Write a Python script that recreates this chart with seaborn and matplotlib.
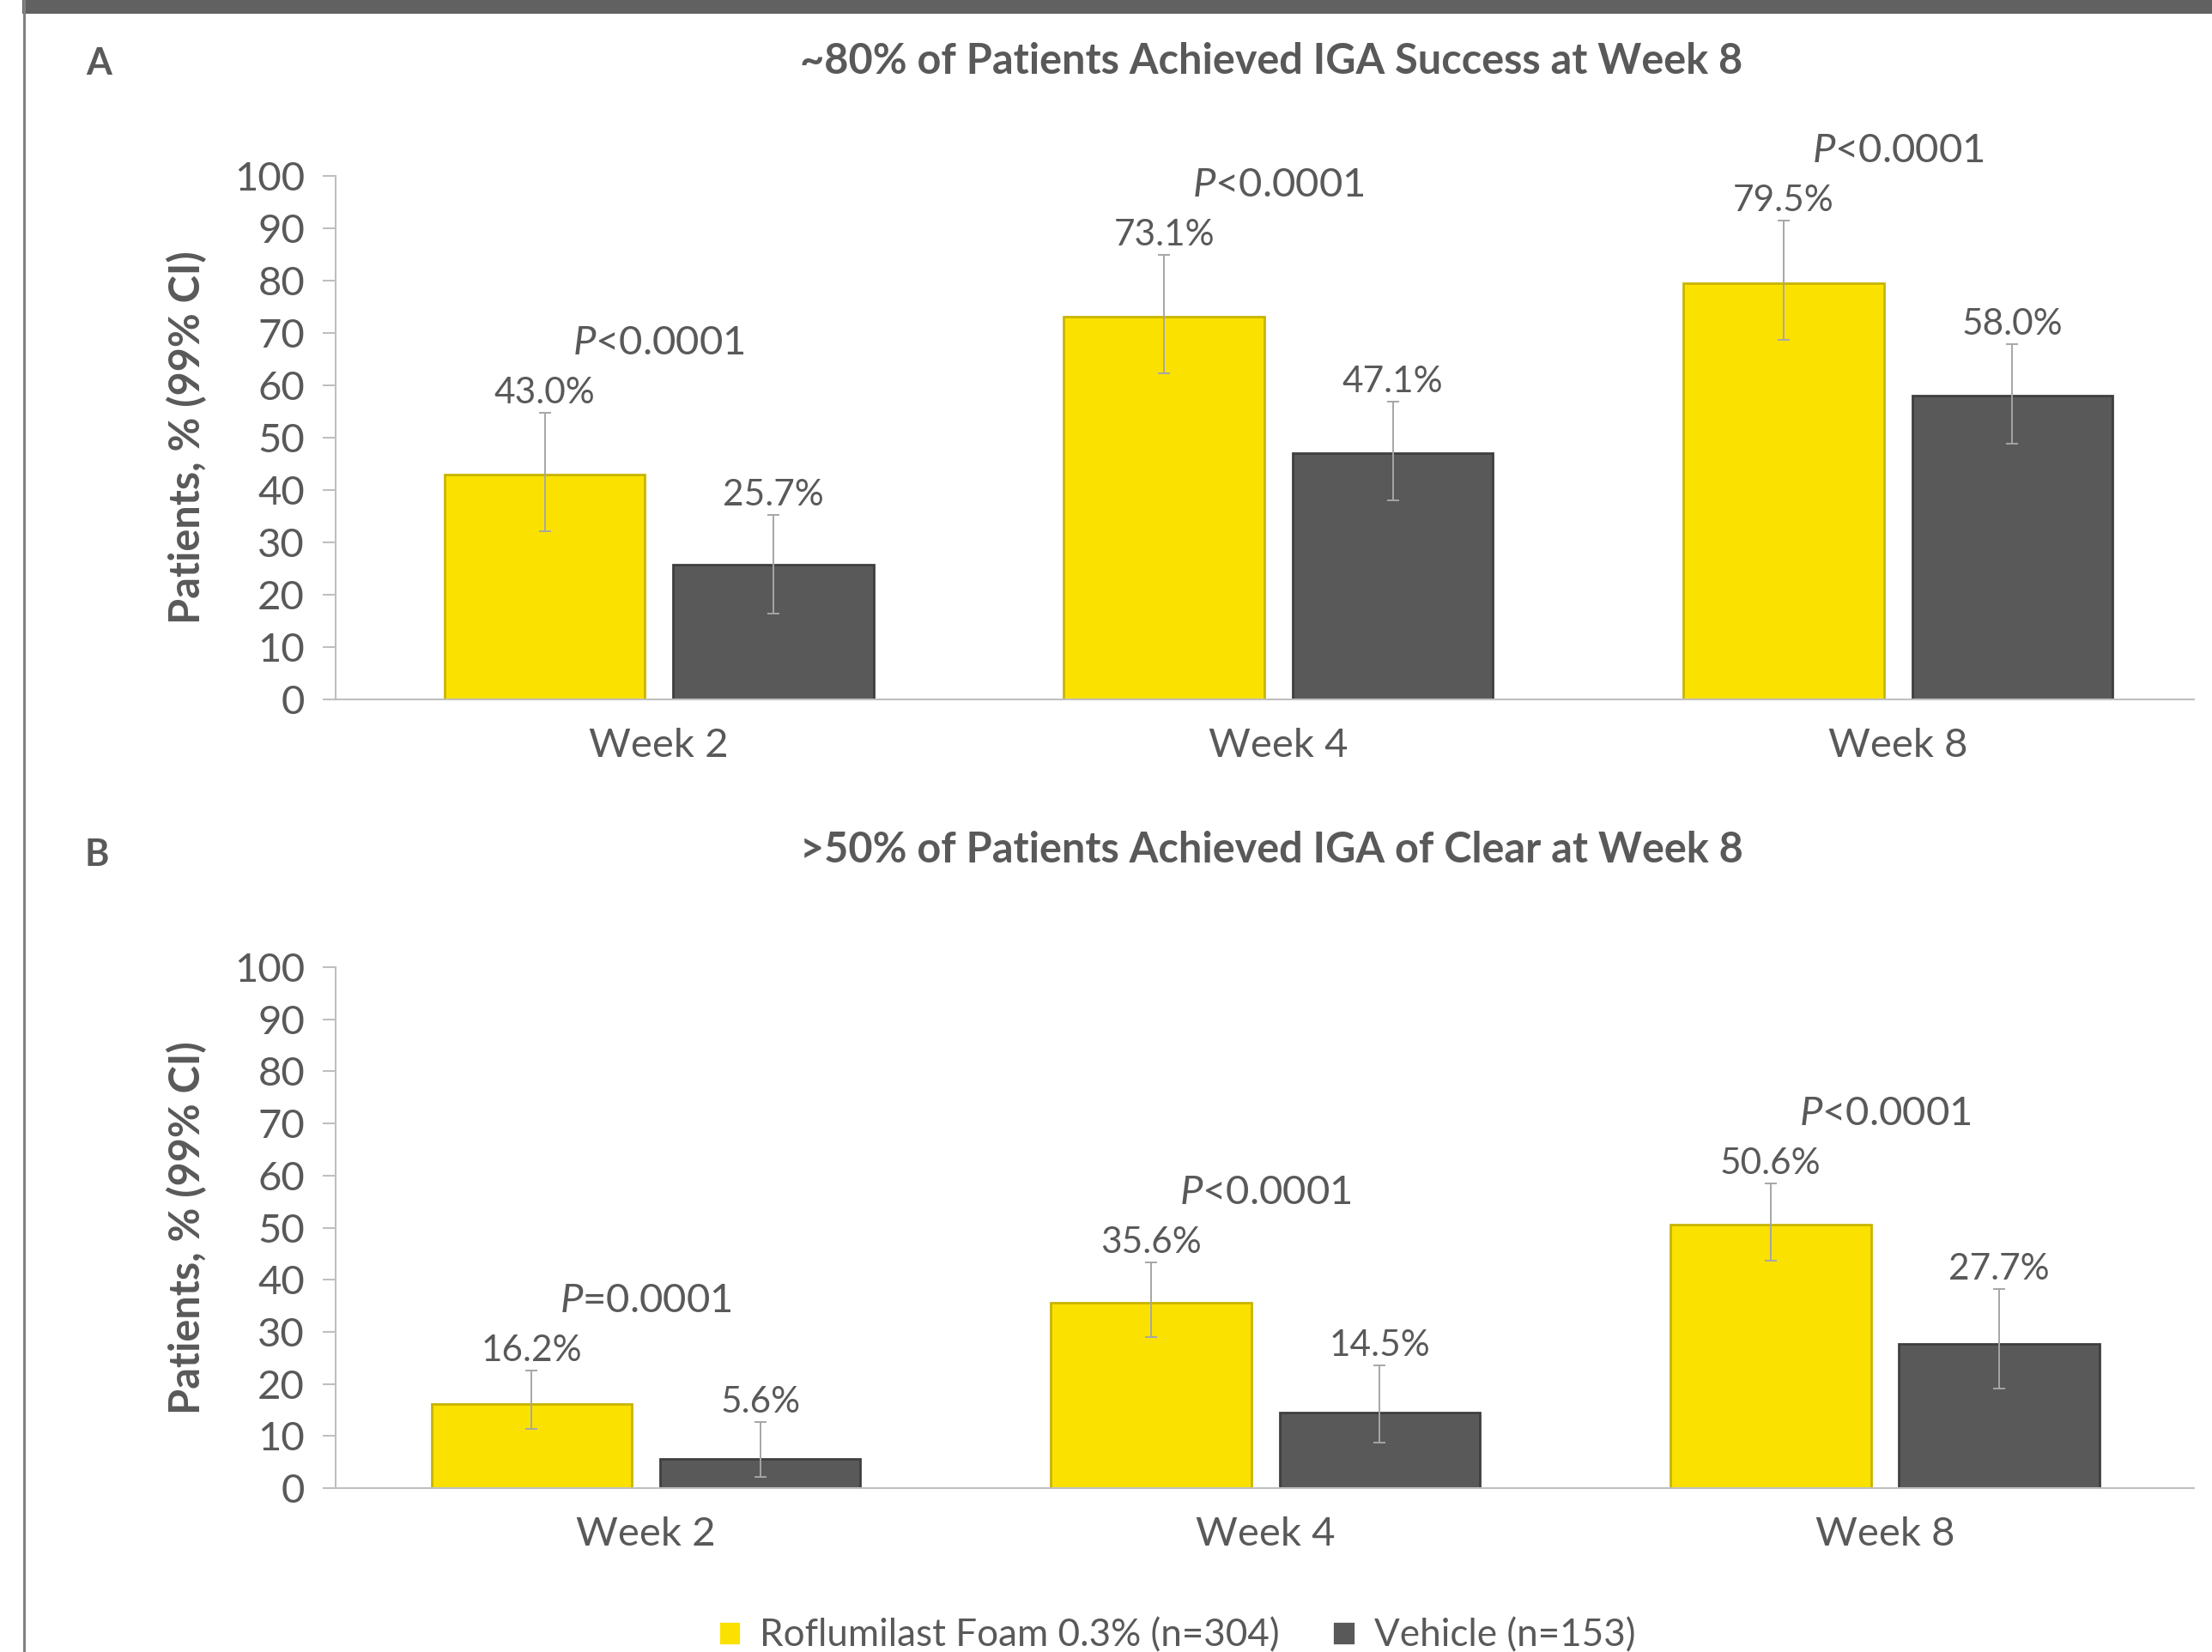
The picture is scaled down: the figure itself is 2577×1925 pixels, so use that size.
import numpy as np
import pandas as pd
import matplotlib
matplotlib.use("Agg")
import matplotlib.pyplot as plt
import seaborn as sns
from matplotlib.patches import Rectangle
from matplotlib.lines import Line2D

weeks = ["Week 2", "Week 4", "Week 8"]
groups = ["Roflumilast Foam 0.3% (n=304)", "Vehicle (n=153)"]

# panel A - IGA success
a_foam = [43.0, 73.1, 79.5]
a_vehicle = [25.7, 47.1, 58.0]
a_foam_lo = [32.1, 62.3, 68.7]
a_foam_hi = [54.7, 84.9, 91.4]
a_vehicle_lo = [16.4, 38.0, 48.8]
a_vehicle_hi = [35.3, 56.9, 67.9]
a_pvals = ["<0.0001", "<0.0001", "<0.0001"]

# panel B - IGA of clear
b_foam = [16.2, 35.6, 50.6]
b_vehicle = [5.6, 14.5, 27.7]
b_foam_lo = [11.4, 29.0, 43.6]
b_foam_hi = [22.5, 43.4, 58.5]
b_vehicle_lo = [2.2, 8.7, 19.2]
b_vehicle_hi = [12.7, 23.6, 38.2]
b_pvals = ["=0.0001", "<0.0001", "<0.0001"]

YELLOW = "#FAE100"
YELLOW_EDGE = "#C8B400"
GREY = "#595959"
GREY_EDGE = "#3F3F3F"
TEXT = "#595959"
AXIS = "#BFBFBF"

sns.set_theme(style="white")
plt.rcParams["font.family"] = ["Lato", "DejaVu Sans"]
plt.rcParams["mathtext.fontset"] = "custom"
plt.rcParams["mathtext.rm"] = "Lato"
plt.rcParams["mathtext.it"] = "Lato:italic"
plt.rcParams["text.color"] = TEXT

fig = plt.figure(figsize=(25.77, 19.25), dpi=100)
axA = fig.add_axes([0.1517, 0.5766, 0.8402, 0.3169])
axB = fig.add_axes([0.1517, 0.0992, 0.8402, 0.3153])


def draw_panel(ax, foam, vehicle, lo, hi, pvals, xlim, legend):
    df = pd.DataFrame({
        "week": weeks * 2,
        "group": [groups[0]] * 3 + [groups[1]] * 3,
        "value": foam + vehicle,
    })
    sns.barplot(data=df, x="week", y="value", hue="group", order=weeks,
                hue_order=groups, palette=[YELLOW, GREY], saturation=1,
                width=0.738, gap=0.123, errorbar=None, linewidth=2, ax=ax,
                legend=legend)
    vals = [foam, vehicle]
    bar_groups = list(ax.containers[:2])
    for i, cont in enumerate(bar_groups):
        for j, bar in enumerate(cont):
            bar.set_edgecolor([YELLOW_EDGE, GREY_EDGE][i])
            x = bar.get_x() + bar.get_width() / 2
            v = vals[i][j]
            ax.errorbar(x, v, yerr=[[v - lo[i][j]], [hi[i][j] - v]], fmt="none",
                        ecolor="#A6A6A6", elinewidth=1.4, capsize=5, capthick=1.4)
            ax.annotate(f"{v:.1f}%", (x, hi[i][j]), xytext=(0, 8),
                        textcoords="offset points", ha="center", va="baseline",
                        fontsize=30.5, color=TEXT)
    for j, p in enumerate(pvals):
        ax.annotate(f"$P${p}", (j, hi[0][j]), xytext=(0, 49),
                    textcoords="offset points", ha="center", va="baseline",
                    fontsize=34, color=TEXT, annotation_clip=False)
    ax.set_ylim(0, 100)
    ax.set_xlim(*xlim)
    ax.set_yticks(np.arange(0, 101, 10))
    sns.despine(ax=ax)
    for s in ["left", "bottom"]:
        ax.spines[s].set_color(AXIS)
        ax.spines[s].set_linewidth(1.5)
    ax.tick_params(axis="y", direction="out", length=10.8, width=1.5, color=AXIS,
                   labelcolor=TEXT, labelsize=34, pad=15, left=True)
    ax.tick_params(axis="x", length=0, labelcolor=TEXT, labelsize=34, pad=24)
    ax.set_xlabel("")
    ax.set_ylabel("Patients, % (99% CI)", fontsize=35, fontweight="bold", color=TEXT)
    ax.yaxis.set_label_coords(-0.069, 0.5)


draw_panel(axA, a_foam, a_vehicle, [a_foam_lo, a_vehicle_lo], [a_foam_hi, a_vehicle_hi],
           a_pvals, (-0.522, 2.478), False)
draw_panel(axB, b_foam, b_vehicle, [b_foam_lo, b_vehicle_lo], [b_foam_hi, b_vehicle_hi],
           b_pvals, (-0.501, 2.499), True)

handles, labels = axB.get_legend_handles_labels()
axB.get_legend().remove()
fig.legend(handles, labels, loc="center", bbox_to_anchor=(0.532, 0.010), ncol=2,
           frameon=False, fontsize=31.7, handlelength=0.6, handleheight=0.6,
           handletextpad=0.5, columnspacing=1.4, labelcolor=TEXT)

# titles and panel letters
fig.text(0.5747, 0.9631, "~80% of Patients Achieved IGA Success at Week 8", ha="center",
         va="center", fontsize=35, fontweight="bold", color=TEXT)
fig.text(0.5747, 0.4852, ">50% of Patients Achieved IGA of Clear at Week 8", ha="center",
         va="center", fontsize=35, fontweight="bold", color=TEXT)
fig.text(0.0446, 0.9616, "A", ha="center", va="center", fontsize=31, fontweight="bold", color=TEXT)
fig.text(0.0439, 0.4826, "B", ha="center", va="center", fontsize=31, fontweight="bold", color=TEXT)

# frame: dark band on top, thin line on the left
fig.add_artist(Rectangle((26 / 2577, 1 - 16 / 1925), 1, 16 / 1925, transform=fig.transFigure,
                         facecolor="#616161", edgecolor="none"))
fig.add_artist(Line2D([27.5 / 2577, 27.5 / 2577], [0, 1], transform=fig.transFigure,
                      color="#808080", linewidth=2.2))

plt.savefig("out.png", dpi=100)
